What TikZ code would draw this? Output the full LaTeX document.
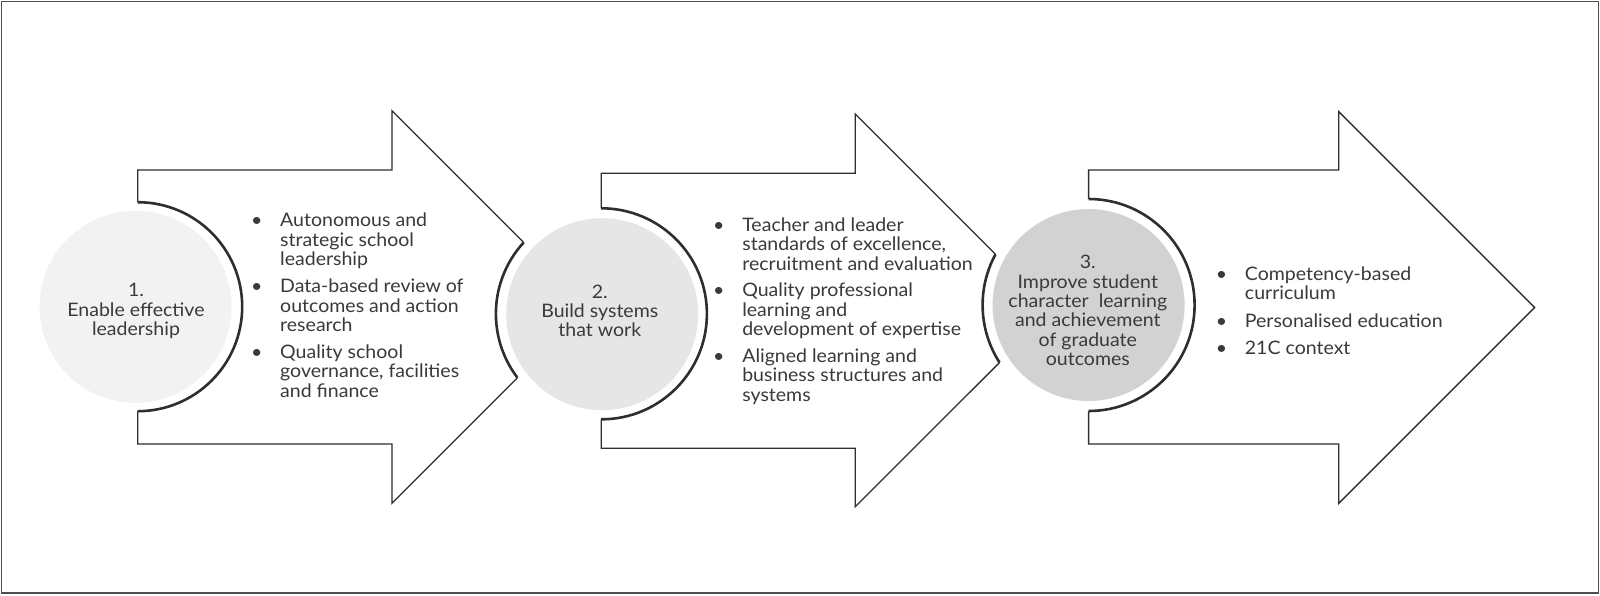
\documentclass[tikz,border=0pt]{standalone}
\usepackage{fontspec}
\setmainfont{Lato}[FakeStretch=1.05]
\usepackage{array}
\definecolor{ink}{HTML}{2E2E2E}
\definecolor{txt}{HTML}{3A3A3A}
\definecolor{gA}{HTML}{F2F2F2}
\definecolor{gB}{HTML}{E6E6E6}
\definecolor{gC}{HTML}{D2D2D2}
\definecolor{framec}{HTML}{4F4F4F}
\newcommand\bul{\makebox[23.5pt][l]{\makebox[0pt][c]{\textbullet}}}
\tikzset{
  arrowbox/.style={fill=white, draw=ink, line width=1.3pt, line join=miter},
  eraser/.style={fill=white, draw=none},
  rim/.style={draw=ink, line width=2.6pt},
  disc/.style={circle, draw=none, minimum size=192pt, inner sep=0pt},
  ctext/.style={align=center, text=txt, inner sep=0pt, font=\fontsize{18.6}{19.3}\selectfont},
  ltext/.style={text=txt, inner sep=0pt, anchor=base west}
}
\begin{document}
\begin{tikzpicture}[x=1pt, y=-1pt]
\useasboundingbox (0,0) rectangle (1600,595);
\draw[framec, line width=1.6pt] (1.5,1.5) rectangle (1598.5,593.2);
% arrows
\path[arrowbox] (137.7,170) -- (391.9,170) -- (391.9,110.7) -- (588.2,307) -- (391.9,503.3) -- (391.9,444) -- (137.7,444) -- cycle;
\path[arrowbox] (601.2,173.3) -- (855.3,173.3) -- (855.3,114) -- (1051.7,310.4) -- (855.3,506.7) -- (855.3,448.3) -- (601.2,448.3) -- cycle;
\path[arrowbox] (1088.6,170) -- (1338.8,170) -- (1338.8,111.7) -- (1534.6,307.5) -- (1338.8,503.3) -- (1338.8,444) -- (1088.6,444) -- cycle;
% white cut-outs
\path[eraser] (137.7,306.7) circle[radius=104.5];
\path[eraser] (601.4,313.8) circle[radius=105.5];
\path[eraser] (1088.6,305) circle[radius=106];
% rims, visible only inside the arrows
\begin{scope}
\clip (137.7,170) -- (391.9,170) -- (391.9,110.7) -- (588.2,307) -- (391.9,503.3) -- (391.9,444) -- (137.7,444) -- cycle
      (601.2,173.3) -- (855.3,173.3) -- (855.3,114) -- (1051.7,310.4) -- (855.3,506.7) -- (855.3,448.3) -- (601.2,448.3) -- cycle
      (1088.6,170) -- (1338.8,170) -- (1338.8,111.7) -- (1534.6,307.5) -- (1338.8,503.3) -- (1338.8,444) -- (1088.6,444) -- cycle;
\draw[rim] (137.7,306.7) circle[radius=104.5];
\draw[rim] (601.4,313.8) circle[radius=105.5];
\draw[rim] (1088.6,305) circle[radius=106];
\end{scope}
% discs
\node[disc, fill=gA] (c1) at (135.5,306.8) {};
\node[disc, fill=gB] (c2) at (602.2,314.2) {};
\node[disc, fill=gC] (c3) at (1088.6,305) {};
\node[ctext] (t1) at (136,311) {1.\\Enable effective\\leadership};
\node[ctext] (t2) at (599.8,311) {2.\\Build systems\\that work};
\node[ctext] (t3) at (1087.8,310.5) {3.\\Improve student\\character~ learning\\and achievement\\of graduate\\outcomes};
% bullet lists
\node[ltext, font=\fontsize{18.6}{19.6}\selectfont] (l1) at (256.5,226.7) {\begin{tabular}[t]{@{}l@{}l@{}}
\bul & Autonomous and\\ & strategic school\\ & leadership\\[7pt]
\bul & Data-based review of\\ & outcomes and action\\ & research\\[7pt]
\bul & Quality school\\ & governance, facilities\\ & and finance
\end{tabular}};
\node[ltext, font=\fontsize{18.6}{19.5}\selectfont] (l2) at (718.6,231) {\begin{tabular}[t]{@{}l@{}l@{}}
\bul & Teacher and leader\\ & standards of excellence,\\ & recruitment and evaluation\\[7pt]
\bul & Quality professional\\ & learning and\\ & development of expertise\\[7pt]
\bul & Aligned learning and\\ & business structures and\\ & systems
\end{tabular}};
\node[ltext, font=\fontsize{18.6}{19}\selectfont] (l3) at (1221.2,280.3) {\begin{tabular}[t]{@{}l@{}l@{}}
\bul & Competency-based\\ & curriculum\\[8pt]
\bul & Personalised education\\[8pt]
\bul & 21C context
\end{tabular}};
\end{tikzpicture}
\end{document}
